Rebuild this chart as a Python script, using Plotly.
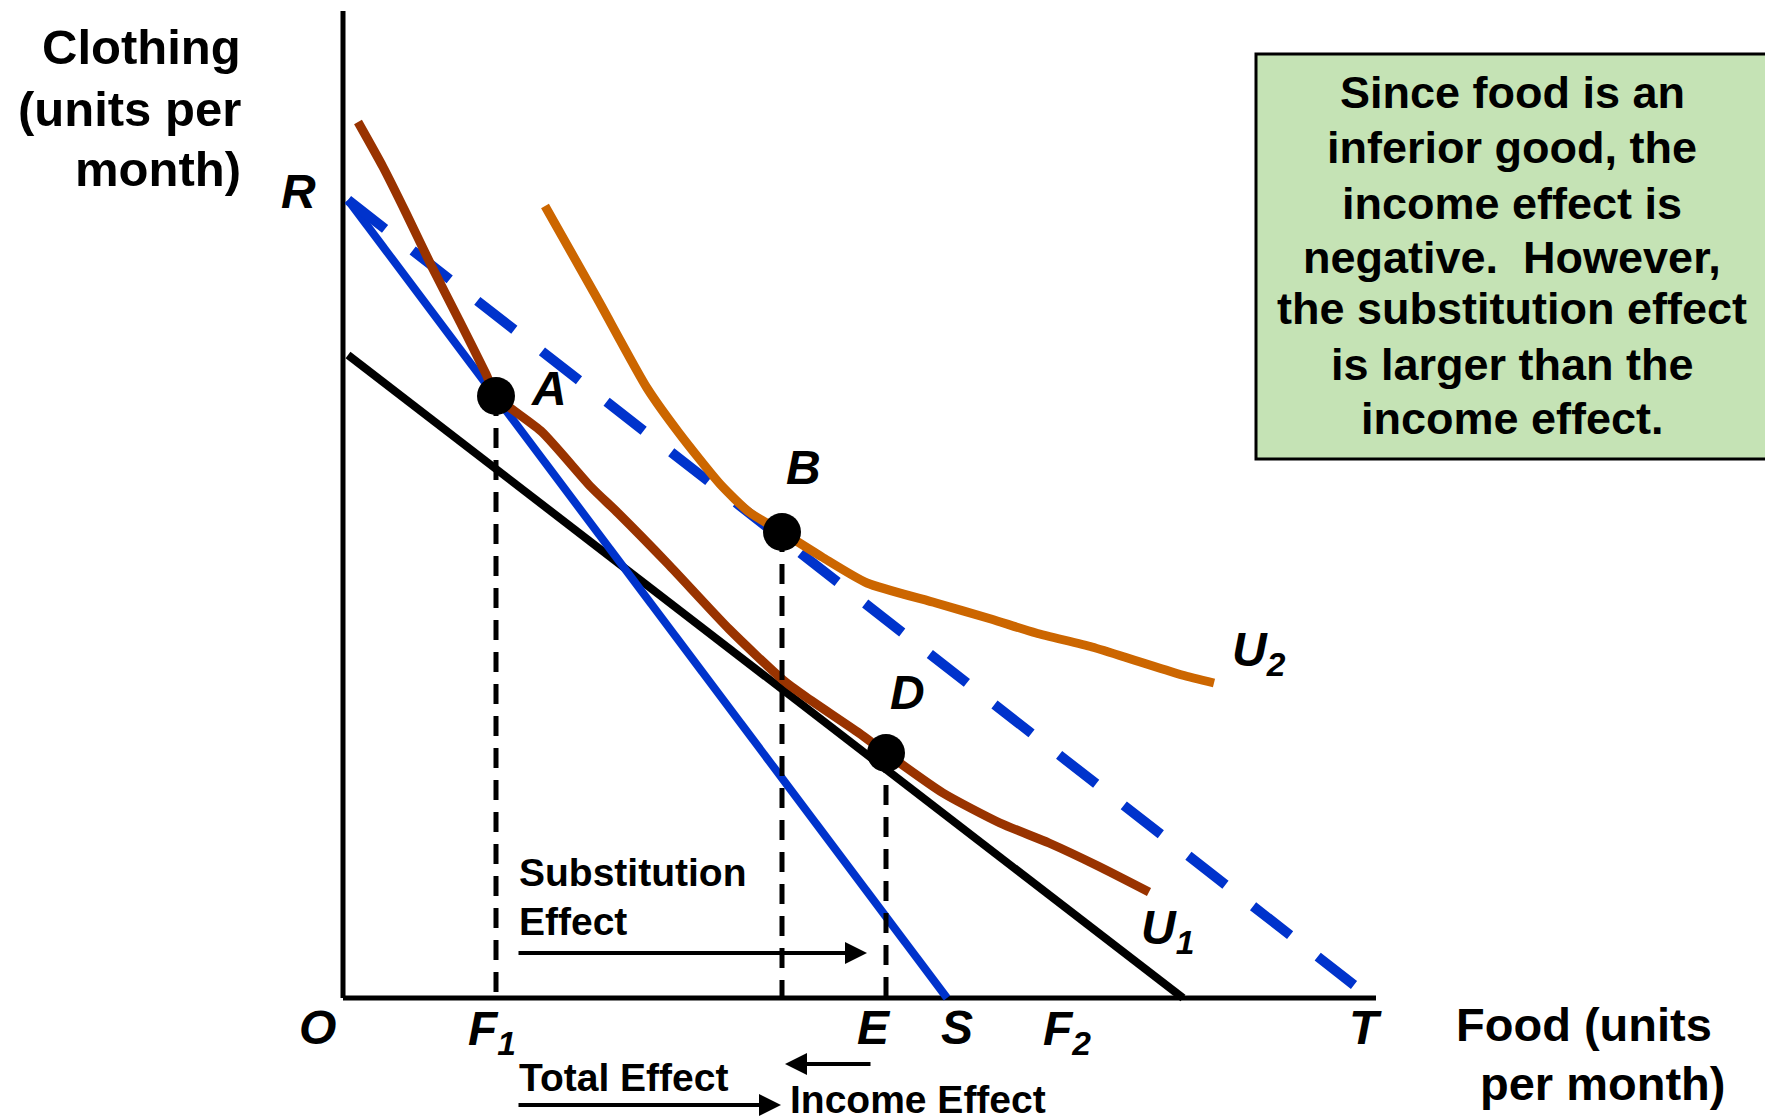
import plotly.graph_objects as go

# indifference curve U1 (food, clothing)
u1_food = [1.5, 4.0, 6.3, 8.9, 11.6, 14.3, 15.3, 19.9, 24.8, 27.5, 32.5, 38.6,
           44.0, 46.3, 51.6, 54.3, 60.0, 65.7, 70.6, 75.5, 80.6]
u1_cloth = [87.6, 83.1, 78.5, 73.1, 67.8, 62.4, 60.2, 56.6, 51.1, 48.5, 43.4, 36.9,
            31.8, 30.1, 26.5, 24.5, 20.5, 17.5, 15.5, 13.2, 10.6]

# indifference curve U2
u2_food = [20.2, 25.4, 30.4, 33.6, 37.7, 40.6, 43.9, 47.9, 52.4,
           59.3, 64.8, 69.3, 74.9, 79.4, 83.9, 87.1]
u2_cloth = [79.2, 70.0, 61.0, 56.5, 51.4, 48.6, 46.6, 44.1, 41.5,
            39.5, 37.9, 36.5, 35.1, 33.7, 32.3, 31.5]

# budget lines
rs_food = [0.5, 60.4]
rs_cloth = [79.8, 0]
rt_food = [0.5, 101.1]
rt_cloth = [79.8, 1.3]
par_food = [0.5, 84.0]
par_cloth = [64.3, 0]

# optimum points
pt_names = ["A", "B", "D"]
pt_food = [15.3, 43.9, 54.3]
pt_cloth = [60.2, 46.6, 24.5]

food_axis_max = 103.3
cloth_axis_max = 98.7

box_lines = ["Since food is an", "inferior good, the", "income effect is",
             "negative.&nbsp; However,", "the substitution effect",
             "is larger than the", "income effect."]

BLUE = "#0033CC"
BROWN = "#993300"
ORANGE = "#CC6600"
FONT = "Liberation Sans, Arial, sans-serif"

fig = go.Figure()


def line(x, y, color, width, dash=None, shape="linear"):
    fig.add_trace(go.Scatter(x=x, y=y, mode="lines", line_shape=shape,
                             line=dict(color=color, width=width, dash=dash,
                                       smoothing=0.6),
                             hoverinfo="skip"))


# axes
line([0, 0], [0, cloth_axis_max], "black", 5)
line([0, food_axis_max], [0, 0], "black", 5)

line(par_food, par_cloth, "black", 8)
line(rs_food, rs_cloth, BLUE, 8)
line(rt_food, rt_cloth, BLUE, 10, dash="47px,35px")
line(u1_food, u1_cloth, BROWN, 9, shape="spline")
line(u2_food, u2_cloth, ORANGE, 9, shape="spline")

for f, c in zip(pt_food, pt_cloth):
    line([f, f], [c, 0], "black", 5, dash="20px,12px")

fig.add_trace(go.Scatter(x=pt_food, y=pt_cloth, mode="markers",
                         marker=dict(size=38, color="black"), hoverinfo="skip"))


def label(text, x, y, size=48, italic=True, xanchor="center"):
    fig.add_annotation(x=x, y=y, text=text, showarrow=False, xanchor=xanchor,
                       yanchor="middle",
                       font=dict(family=FONT, size=size, color="black",
                                 weight="bold",
                                 style="italic" if italic else "normal"))


label("R", -4.5, 80.7)
label("O", -2.6, -2.9)
label("F<sub>1</sub>", 14.9, -3.4)
label("E", 53.1, -2.9)
label("S", 61.4, -2.9)
label("F<sub>2</sub>", 72.4, -3.4)
label("T", 102.2, -2.9)
label("A", 20.6, 61.0)
label("B", 46.0, 53.1)
label("D", 56.4, 30.6)
label("U<sub>2</sub>", 91.6, 34.5)
label("U<sub>1</sub>", 82.4, 6.7)

label("Clothing", -10.0, 95.1, size=49, italic=False, xanchor="right")
label("(units per", -10.0, 88.9, size=49, italic=False, xanchor="right")
label("month)", -10.0, 82.9, size=49, italic=False, xanchor="right")
label("Food (units", 124.1, -2.6, size=47, italic=False)
label("per month)", 125.9, -8.5, size=47, italic=False)

label("Substitution", 17.4, 12.6, size=39, italic=False, xanchor="left")
label("Effect", 17.4, 7.7, size=39, italic=False, xanchor="left")
label("Total Effect", 17.4, -7.9, size=39, italic=False, xanchor="left")
label("Income Effect", 44.5, -10.1, size=39, italic=False, xanchor="left")


def arrow(x0, x1, y):
    fig.add_annotation(x=x1, y=y, ax=x0, ay=y, xref="x", yref="y", axref="x",
                       ayref="y", text="", showarrow=True, arrowhead=2,
                       arrowsize=1.1, arrowwidth=4, arrowcolor="black")


arrow(17.4, 52.4, 4.5)
arrow(52.9, 44.2, -6.6)
arrow(17.4, 43.8, -10.7)

# note box
fig.add_shape(type="rect", x0=91.3, x1=145, y0=53.9, y1=94.4,
              fillcolor="#C5E3B5", line=dict(color="black", width=3), layer="below")
box_y = [90.6, 85.1, 79.5, 74.1, 69.0, 63.4, 58.0]
for t, yy in zip(box_lines, box_y):
    label(t, 116.9, yy, size=45, italic=False)

fig.update_layout(
    width=1765, height=1120,
    margin=dict(l=0, r=0, t=0, b=0),
    paper_bgcolor="white", plot_bgcolor="white",
    showlegend=False,
    xaxis=dict(range=[-34.3, 142.2], visible=False),
    yaxis=dict(range=[-12.2, 99.8], visible=False),
)

fig.write_html("out.html", config={"displayModeBar": False},
               post_script="document.body.style.margin = '0';")
